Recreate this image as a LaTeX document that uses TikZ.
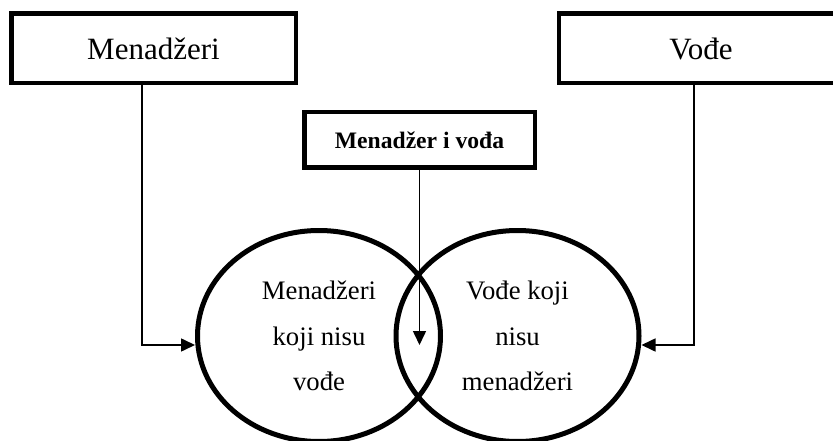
\documentclass[tikz,border=0pt]{standalone}
\usepackage{fontspec}
\setmainfont{Liberation Serif}
\usetikzlibrary{arrows.meta,shapes.geometric}

\tikzset{
    box/.style={draw, line width=4.5pt, inner sep=0pt, font=\fontsize{31}{36}\selectfont},
    set/.style={draw, ellipse, line width=5pt, inner sep=0pt, align=center,
        minimum width=243pt, minimum height=211pt,
        font=\fontsize{26.7}{45.5}\selectfont},
    conn/.style={line width=1.6pt, -{Triangle[length=14pt,width=13pt]}}
}

\begin{document}
\begin{tikzpicture}[x=1pt, y=-1pt]
    \clip (0,0) rectangle (833,441);

    % Boxes on top
    \node[box, minimum width=284.5pt, minimum height=69.5pt] (mgr) at (153.5,48.5) {Menadžeri};
    \node[box, minimum width=284.5pt, minimum height=69.5pt] (ldr) at (701,48.5) {Vođe};
    \node[box, minimum width=230.5pt, minimum height=55.5pt,
        font=\fontsize{23.6}{28}\selectfont\bfseries] (both) at (419.5,140) {Menadžer i vođa};

    % The two sets
    \node[set] (left) at (319,336) {Menadžeri\\koji nisu\\vođe};
    \node[set] (right) at (517.5,336) {Vođe koji\\nisu\\menadžeri};

    % Connectors
    \coordinate (tip) at (419.5,345);
    \draw[conn] ([xshift=-11.5pt]mgr.south) |- ([yshift=-9pt]left.west);
    \draw[conn] ([xshift=-7pt]ldr.south) |- ([yshift=-9pt]right.east);
    \draw[conn] (both.south) -- (tip);
\end{tikzpicture}
\end{document}
